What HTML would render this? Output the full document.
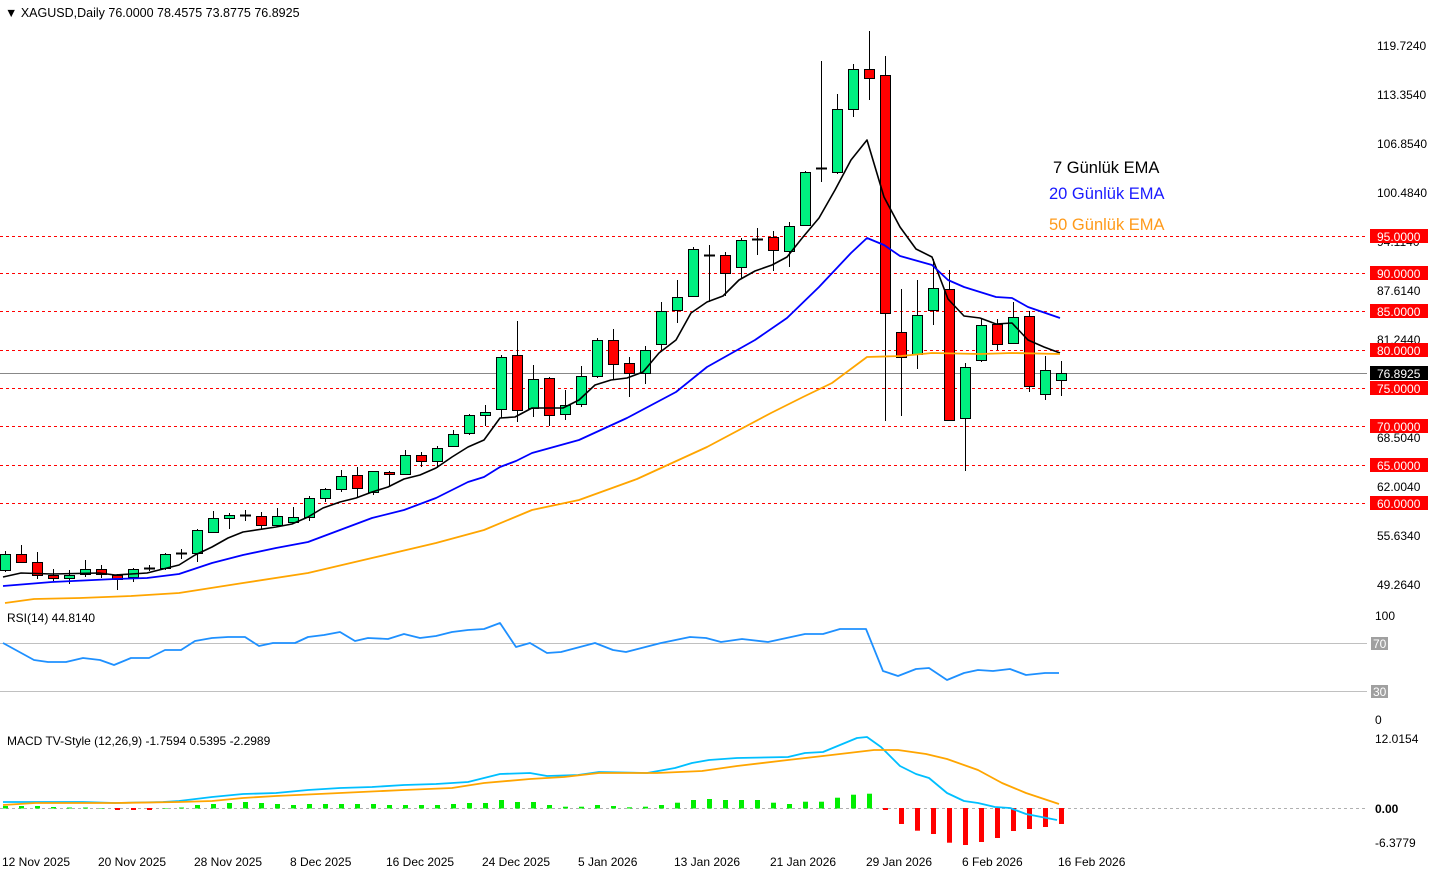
<!DOCTYPE html>
<html><head><meta charset="utf-8"><style>
html,body{margin:0;padding:0;background:#fff;}
svg{display:block;font-family:"Liberation Sans",Tahoma,sans-serif;}
</style></head><body>
<svg id="s" width="1434" height="874" xmlns="http://www.w3.org/2000/svg">
<rect width="1434" height="874" fill="#fff"/>
<g id="hl"></g>
<g id="cd"></g>
<g id="ln"></g>
<g id="tx" font-size="12" fill="#000">
<text x="5" y="17" font-size="12.5">▼ XAGUSD,Daily  76.0000 78.4575 73.8775 76.8925</text>
<text x="1053" y="173" font-size="16.5">7 Günlük EMA</text>
<text x="1049" y="199" font-size="16.5" fill="#1a1aff">20 Günlük EMA</text>
<text x="1049" y="230" font-size="16.5" fill="#ff9a1a">50 Günlük EMA</text>
<text x="7" y="622">RSI(14) 44.8140</text>
<text x="7" y="745">MACD TV-Style (12,26,9) -1.7594 0.5395 -2.2989</text>
</g>
</svg>
<script>
var s=document.getElementById('s'),NS='http://www.w3.org/2000/svg';
function el(p,t,a,txt){var e=document.createElementNS(NS,t);for(var k in a)e.setAttribute(k,a[k]);if(txt!==undefined)e.textContent=txt;document.getElementById(p).appendChild(e);return e;}
var lv=[[95,236],[90,273],[85,311],[80,350],[75,388],[70,426],[65,465],[60,503]];
lv.forEach(function(l){el('hl','line',{x1:0,x2:1367,y1:l[1]+.5,y2:l[1]+.5,stroke:'#ff0000','stroke-dasharray':'3,3','stroke-width':1});});
el('hl','line',{x1:0,x2:1367,y1:373.5,y2:373.5,stroke:'#888','stroke-width':1});
el('hl','line',{x1:0,x2:1367,y1:643.5,y2:643.5,stroke:'#c0c0c0'});
el('hl','line',{x1:0,x2:1367,y1:691.5,y2:691.5,stroke:'#c0c0c0'});
el('hl','line',{x1:0,x2:1367,y1:808.5,y2:808.5,stroke:'#b0b0b0','stroke-dasharray':'3,3'});
var ax=[["119.7240",46],["113.3540",95],["106.8540",144],["100.4840",193],["94.1140",242],["87.6140",291],["81.2440",340],["68.5040",438],["62.0040",487],["55.6340",536],["49.2640",585]];
ax.forEach(function(a){el('tx','text',{x:1377,y:a[1]+4},a[0]);});
lv.forEach(function(l){el('tx','rect',{x:1370,y:l[1]-7,width:58,height:14,fill:'#ff0000'});el('tx','text',{x:1377,y:l[1]+5,fill:'#fff'},l[0].toFixed(4));});
el('tx','rect',{x:1370,y:366,width:58,height:14,fill:'#000'});el('tx','text',{x:1377,y:378,fill:'#fff'},'76.8925');
el('tx','text',{x:1375,y:620},'100');
el('tx','rect',{x:1371,y:637,width:17,height:13,fill:'#a0a0a0'});el('tx','text',{x:1373,y:648,fill:'#fff'},'70');
el('tx','rect',{x:1371,y:685,width:17,height:13,fill:'#a0a0a0'});el('tx','text',{x:1373,y:696,fill:'#fff'},'30');
el('tx','text',{x:1375,y:724},'0');
el('tx','text',{x:1375,y:743},'12.0154');
el('tx','text',{x:1375,y:813,'font-weight':'bold'},'0.00');
el('tx','text',{x:1375,y:847},'-6.3779');
var dl=[["12 Nov 2025",2],["20 Nov 2025",98],["28 Nov 2025",194],["8 Dec 2025",290],["16 Dec 2025",386],["24 Dec 2025",482],["5 Jan 2026",578],["13 Jan 2026",674],["21 Jan 2026",770],["29 Jan 2026",866],["6 Feb 2026",962],["16 Feb 2026",1058]];
dl.forEach(function(d){el('tx','text',{x:d[1],y:866},d[0]);});
var C=[[554,570,551,572,'g'],[554,562,545,563,'r'],[562,575,552,579,'r'],[575,578,569,581,'r'],[575,578,570,584,'g'],[569,574,560,577,'g'],[569,574,565,578,'r'],[575,579,574,590,'r'],[569,577,568,582,'g'],[568,568,565,571,'d'],
[554,568,553,570,'g'],[553,553,549,559,'d'],[530,553,529,562,'g'],[518,532,511,532,'g'],[515,518,513,529,'g'],[515,515,510,521,'d'],[516,525,512,529,'r'],[516,525,508,526,'g'],[517,522,507,522,'g'],[498,517,496,521,'g'],
[489,498,488,502,'g'],[476,489,470,492,'g'],[475,488,467,497,'r'],[471,492,471,495,'g'],[472,474,471,487,'r'],[455,474,450,474,'g'],[455,461,452,467,'r'],[448,461,446,468,'g'],[434,446,430,447,'g'],[415,433,414,435,'g'],
[412,415,405,426,'g'],[357,409,355,418,'g'],[355,410,321,422,'r'],[379,408,365,417,'g'],[378,415,377,426,'r'],[405,414,390,420,'g'],[376,404,366,407,'g'],[340,376,338,378,'g'],[340,364,329,379,'r'],[363,373,357,397,'r'],
[350,373,346,384,'g'],[311,344,302,350,'g'],[297,310,280,323,'g'],[249,296,247,297,'g'],[255,255,245,302,'d'],[255,273,252,296,'r'],[240,267,238,278,'g'],[239,239,228,255,'d'],[237,250,231,271,'r'],[226,251,222,267,'g'],
[172,225,171,226,'g'],[168,168,61,182,'d'],[109,172,94,174,'g'],[69,109,64,117,'g'],[69,78,31,100,'r'],[75,313,56,421,'r'],[332,357,289,416,'r'],[315,354,280,369,'g'],[288,310,259,325,'g'],[289,420,270,421,'r'],
[367,418,363,471,'g'],[325,360,318,362,'g'],[324,344,319,350,'r'],[317,343,302,344,'g'],[316,386,311,392,'r'],[370,394,356,400,'g'],[373,380,361,396,'g']];
C.forEach(function(c,i){var x=5+16*i;
el('cd','line',{x1:x+.5,x2:x+.5,y1:c[2],y2:c[3],stroke:'#000'});
if(c[4]=='d'){el('cd','line',{x1:x-5,x2:x+6,y1:c[0]+.5,y2:c[0]+.5,stroke:'#000','stroke-width':2});}
else el('cd','rect',{x:x-4.5,y:c[0]+.5,width:10,height:Math.max(c[1]-c[0],2),fill:c[4]=='g'?'#00f080':'#ff0000',stroke:'#000'});
});
function pl(pts,col,w){el('ln','polyline',{points:pts.map(function(p){return p.join(',')}).join(' '),fill:'none',stroke:col,'stroke-width':w,'stroke-linejoin':'round'});}
pl([[3,577],[21,573],[52,574],[99,573],[115,575],[147,573],[179,565],[195,555],[212,547],[228,538],[243,532],[276,527],[292,524],[308,517],[323,508],[340,502],[356,498],[372,492],[388,487],[404,479],[420,475],[436,468],[452,457],[468,447],[484,440],[500,418],[515,417],[532,408],[547,408],[563,408],[579,400],[595,385],[611,380],[627,378],[643,372],[659,353],[676,340],[691,313],[707,302],[723,296],[739,280],[755,271],[772,265],[787,257],[803,237],[819,218],[835,190],[851,160],[867,140],[884,197],[900,227],[916,249],[932,257],[948,299],[964,316],[980,318],[996,324],[1012,323],[1028,340],[1044,347],[1060,353]],'#000',1.6);
pl([[3,586],[52,582],[115,579],[147,578],[179,574],[212,563],[243,555],[276,548],[308,542],[340,530],[372,518],[404,510],[436,498],[468,482],[484,477],[500,467],[516,461],[532,453],[579,440],[627,418],[676,392],[707,367],[755,340],[787,318],[819,287],[851,253],[867,238],[884,245],[900,256],[932,265],[948,280],[964,287],[996,297],[1012,298],[1028,307],[1060,318]],'#0000ff',1.8);
pl([[5,603],[34,599],[80,598],[131,596],[179,593],[243,583],[308,573],[372,558],[436,543],[484,530],[532,510],[579,500],[637,479],[707,447],[771,413],[803,397],[832,383],[867,357],[901,356],[932,353],[980,354],[1012,353],[1060,354]],'#ffa500',1.8);
pl([[3,643],[34,660],[48,662],[66,662],[83,658],[100,660],[114,665],[131,658],[149,658],[165,650],[181,650],[195,641],[212,638],[228,637],[245,637],[259,646],[273,643],[295,643],[308,637],[324,635],[340,632],[355,641],[368,638],[388,639],[404,634],[420,638],[436,636],[452,632],[468,630],[484,629],[500,623],[516,647],[530,643],[547,653],[561,652],[595,643],[613,650],[626,652],[661,643],[690,637],[706,638],[721,642],[742,639],[768,642],[805,634],[823,634],[840,629],[866,629],[883,671],[898,676],[916,669],[929,668],[947,680],[964,673],[978,670],[993,671],[1010,669],[1026,675],[1045,673],[1059,673]],'#1e90ff',1.8);
var H=[806,806,806,807,807.5,807.5,808,810,810,810,808,807.5,805,804,803,802,803,804,805,804,804,804,804,804,805,805,805,805,804,803,803,800,802,802,
805,806.7,806.7,805,806,807.3,806.7,805,802.7,800,799,800,800,800,802.7,804,801.7,801.7,797.7,794.7,793.7,810,824,830.7,834,842.7,845,842,838,831,829,827,824];
H.forEach(function(h,i){var x=5+16*i;if(h>808.5)el('ln','rect',{x:x-2,y:808,width:5,height:h-808,fill:'#ff0000'});else el('ln','rect',{x:x-2,y:h,width:5,height:808-h+0.5,fill:'#00ee00'});});
pl([[3,802],[83,802],[115,803],[163,802],[179,801],[212,797],[243,794],[276,793],[308,790],[340,788],[372,787],[404,785],[436,784],[468,782],[500,774],[530,773],[547,776],[578,775],[599,772],[647,773],[675,768],[692,763],[709,760],[737,758],[788,757],[805,753],[823,752],[840,745],[857,738],[867,737],[881,747],[900,766],[916,774],[929,778],[947,793],[964,801],[978,803],[995,807],[1010,808],[1026,814],[1057,820]],'#00bfff',1.8);
pl([[3,805],[35,803],[115,803],[179,802],[212,801],[243,798],[276,796],[340,793],[404,790],[452,788],[484,783],[530,779],[564,777],[599,773],[657,773],[702,771],[737,766],[788,760],[823,756],[857,752],[874,750],[898,750],[926,754],[947,759],[978,770],[1002,783],[1026,793],[1059,804]],'#ffa500',1.8);
</script>
</body></html>
